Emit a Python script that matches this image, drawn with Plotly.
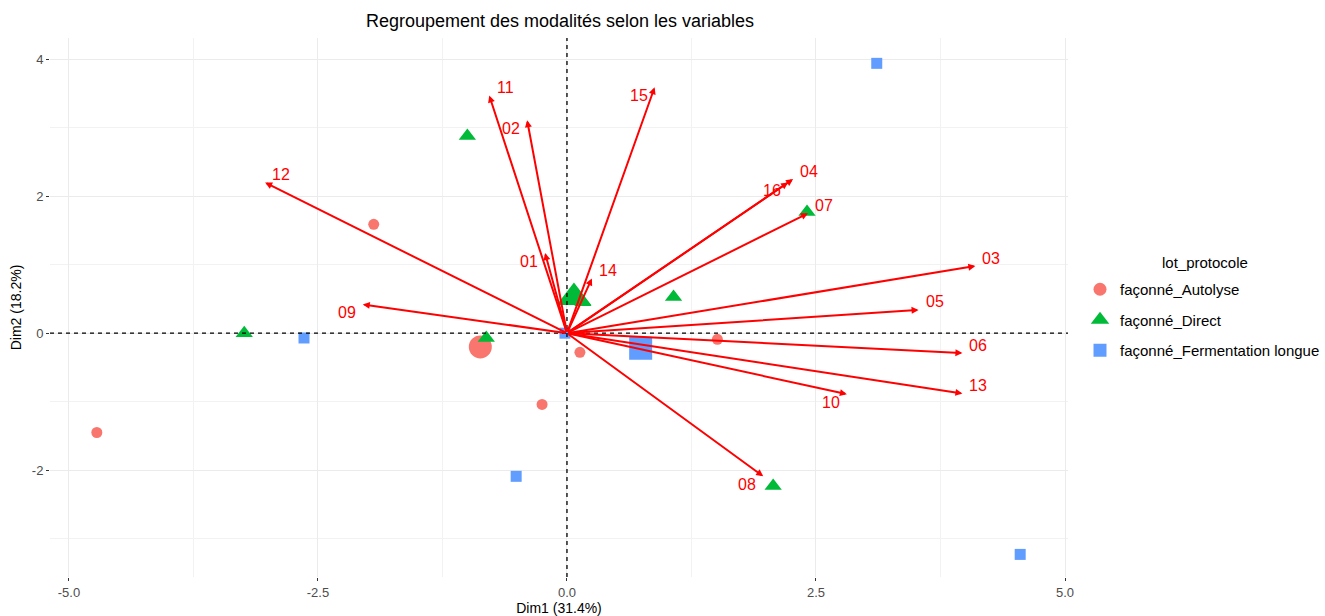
import plotly.graph_objects as go

# ---------------- data ----------------
groups = ["façonné_Autolyse", "façonné_Direct", "façonné_Fermentation longue"]
group_colors = ["#F8766D", "#00BA38", "#619CFF"]
group_symbols = ["circle", "triangle-up", "square"]

# individuals per group
ind_x = {
    "façonné_Autolyse": [-4.72, -1.94, -0.25, 0.13, 1.51],
    "façonné_Direct": [-3.24, -1.00, -0.81, 1.07, 2.41, 2.07, 0.16],
    "façonné_Fermentation longue": [3.11, -2.64, -0.51, 4.55, -0.02],
}
ind_y = {
    "façonné_Autolyse": [-1.45, 1.59, -1.04, -0.28, -0.09],
    "façonné_Direct": [0.00, 2.88, -0.07, 0.53, 1.77, -2.23, 0.45],
    "façonné_Fermentation longue": [3.94, -0.07, -2.09, -3.23, 0.00],
}
# group means (large markers)
mean_x = [-0.87, 0.07, 0.74]
mean_y = [-0.20, 0.52, -0.22]

# variable arrows
var_names = ["01", "02", "03", "04", "05", "06", "07", "08",
             "09", "10", "11", "12", "13", "14", "15", "16"]
var_x = [-0.22, -0.40, 4.10, 2.27, 3.53, 3.97, 2.42, 1.97,
         -2.05, 2.81, -0.78, -3.03, 3.97, 0.25, 0.88, 2.22]
var_y = [1.17, 3.11, 0.98, 2.25, 0.34, -0.29, 1.75, -2.09,
         0.42, -0.89, 3.47, 2.20, -0.88, 0.80, 3.59, 2.20]
# label side: 1 = above right of tip, -1 = below left of tip
var_side = [-1, -1, 1, 1, 1, 1, 1, -1,
            -1, -1, 1, 1, 1, 1, -1, -1]

x_ticks = [-5.0, -2.5, 0.0, 2.5, 5.0]
x_ticktext = ["-5.0", "-2.5", "0.0", "2.5", "5.0"]
y_ticks = [-2, 0, 2, 4]
y_ticktext = ["-2", "0", "2", "4"]
x_minor = [-3.75, -1.25, 1.25, 3.75]
y_minor = [-3, -1, 1, 3]

# ---------------- figure ----------------
FONT = "Liberation Sans, Arial, Helvetica, sans-serif"
W, H = 1325, 616
ML, MR, MT, MB = 50, 257, 38, 39
PW, PH = W - ML - MR, H - MT - MB
fig = go.Figure()

for i, g in enumerate(groups):
    xs = ind_x[g] + [mean_x[i]]
    ys = ind_y[g] + [mean_y[i]]
    small = 15 if group_symbols[i] == "triangle-up" else 11
    big = 30 if group_symbols[i] == "triangle-up" else 23
    sizes = [small] * len(ind_x[g]) + [big]
    fig.add_trace(go.Scatter(
        x=xs, y=ys, mode="markers", name=g, legendgroup=g,
        marker=dict(color=group_colors[i], symbol=group_symbols[i],
                    size=sizes, opacity=1, line=dict(width=0)),
        hoverinfo="skip",
    ))

annotations = []
for n, vx, vy, s in zip(var_names, var_x, var_y, var_side):
    annotations.append(dict(
        x=vx, y=vy, ax=0, ay=0, xref="x", yref="y", axref="x", ayref="y",
        text="", showarrow=True, arrowhead=2, arrowsize=0.7, arrowwidth=2,
        arrowcolor="#FF0000", standoff=0, startstandoff=0,
    ))
    annotations.append(dict(
        x=vx, y=vy, xref="x", yref="y", text=n, showarrow=False,
        xshift=16 * s, yshift=8 * s,
        font=dict(color="#FF0000", size=16, family=FONT),
    ))
# legend title (paper coords are relative to the plot area)
annotations.append(dict(
    x=(1205 - ML) / PW, y=(H - MB - 262) / PH, xref="paper", yref="paper",
    text="lot_protocole", showarrow=False, xanchor="center", yanchor="middle",
    font=dict(size=15, color="#000000", family=FONT),
))

fig.update_layout(
    width=W, height=H,
    margin=dict(l=ML, r=MR, t=MT, b=MB, autoexpand=False),
    paper_bgcolor="white", plot_bgcolor="white",
    font=dict(family=FONT, color="#000000"),
    title=dict(text="Regroupement des modalités selon les variables",
               x=560 / W, xanchor="center", y=1 - 21 / H, yanchor="middle",
               font=dict(size=18, color="#000000", family=FONT)),
    annotations=annotations,
    shapes=[
        dict(type="line", xref="x", yref="paper", x0=0, x1=0, y0=0, y1=1,
             line=dict(color="#000000", width=1.3, dash="4px,4px")),
        dict(type="line", xref="paper", yref="y", x0=0, x1=1, y0=0, y1=0,
             line=dict(color="#000000", width=1.3, dash="4px,4px")),
    ],
    legend=dict(
        font=dict(size=15, color="#000000"),
        xref="container", yref="container",
        x=1080 / W, xanchor="left", y=1 - 320 / H, yanchor="middle",
        tracegroupgap=8, itemsizing="trace", bgcolor="rgba(0,0,0,0)",
    ),
    showlegend=True,
)

fig.update_xaxes(
    range=[-5.19, 5.03], tickvals=x_ticks, ticktext=x_ticktext,
    showgrid=True, gridcolor="#EBEBEB", gridwidth=1, zeroline=False,
    ticks="outside", ticklen=3, tickcolor="#333333", tickwidth=1,
    tickfont=dict(size=13, color="#4D4D4D"), showline=False, automargin=False,
    minor=dict(tickvals=x_minor, showgrid=True, gridcolor="#F2F2F2", gridwidth=1),
    title=dict(text="Dim1 (31.4%)", font=dict(size=14, color="#000000"), standoff=4),
)
fig.update_yaxes(
    range=[-3.56, 4.31], tickvals=y_ticks, ticktext=y_ticktext,
    showgrid=True, gridcolor="#EBEBEB", gridwidth=1, zeroline=False,
    ticks="outside", ticklen=3, tickcolor="#333333", tickwidth=1,
    tickfont=dict(size=13, color="#4D4D4D"), showline=False, automargin=False,
    minor=dict(tickvals=y_minor, showgrid=True, gridcolor="#F2F2F2", gridwidth=1),
    title=dict(text="Dim2 (18.2%)", font=dict(size=14, color="#000000"), standoff=6),
)

fig.write_html(
    "out.html",
    config={"displayModeBar": False},
    post_script="document.body.style.margin='0';document.body.style.overflow='hidden';",
)
